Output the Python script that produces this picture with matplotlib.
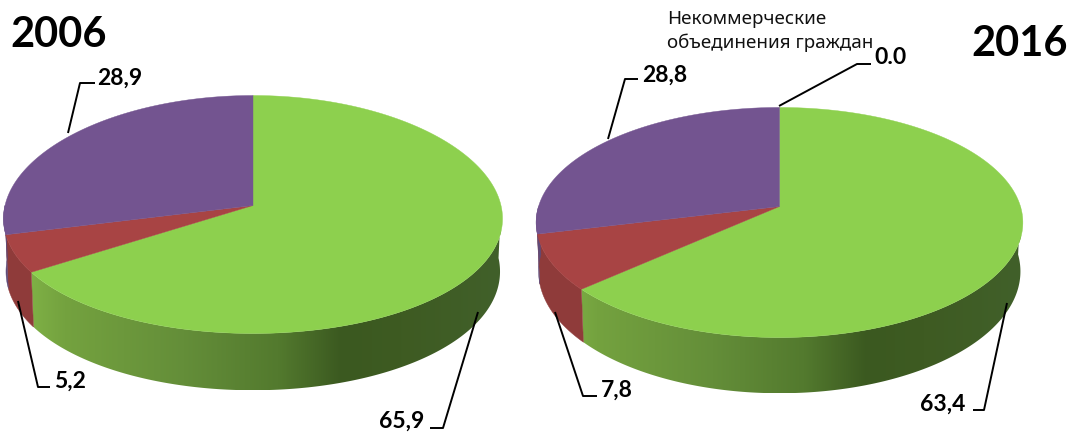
import numpy as np
import matplotlib.pyplot as plt
from matplotlib.colors import to_rgb

years = ['2006', '2016']
values_2006 = [65.9, 5.2, 28.9]
values_2016 = [63.4, 7.8, 28.8, 0.0]
labels_2006 = ['65,9', '5,2', '28,9']
labels_2016 = ['63,4', '7,8', '28,8', '0.0']
zero_name = 'Некоммерческие\nобъединения граждан'

top_colors = ['#8dd04e', '#a84444', '#735490', '#735490']
side_colors = [None, '#8f3b3a', '#5f4a78', '#5f4a78']

# shading of the green side, by position across the pie (0 left, 1 right)
green_pos = [0.0, 0.12, 0.36, 0.55, 0.68, 0.8, 1.0]
green_col = ['#86bb4a', '#74a23f', '#648e39', '#537a2e', '#3b5920', '#3e5b22', '#41602a']
green_rgb = np.array([to_rgb(c) for c in green_col])


def project(theta, cx, cy, a, b, k, kx):
    # theta clockwise from the back of the pie, simple perspective
    front = -np.cos(theta)
    den = 1 - k * front
    return cx + a * np.sin(theta) / (1 - kx * front), cy + b * front / den, den


def draw_pie(ax, values, cx, cy, a, b, k, kx, depth):
    edges = np.cumsum([0] + values) / sum(values) * 2 * np.pi

    # side wall first, only the part facing the viewer
    for i, v in enumerate(values):
        t0 = max(edges[i], np.pi / 2)
        t1 = min(edges[i + 1], 3 * np.pi / 2)
        if t1 <= t0:
            continue
        ts = np.linspace(t0, t1, 200)
        x, y, d = project(ts, cx, cy, a, b, k, kx)
        xb = cx + (x - cx) * 0.99
        yb = y + depth / d
        px = np.concatenate([x, xb[::-1]])
        py = np.concatenate([y, yb[::-1]])
        if side_colors[i] is None:
            wall = ax.fill(px, py, color='none', lw=0)[0]
            p = np.linspace(0, 1, 512)
            grad = np.stack([np.interp(p, green_pos, green_rgb[:, c]) for c in range(3)], axis=-1)
            im = ax.imshow(grad[np.newaxis, :, :], extent=[cx - a, cx + a, py.max(), py.min()],
                           aspect='auto', zorder=1, interpolation='bilinear')
            im.set_clip_path(wall)
        else:
            ax.fill(px, py, color=side_colors[i], lw=0.3, zorder=1)

    # top face
    for i, v in enumerate(values):
        if v == 0:
            continue
        ts = np.linspace(edges[i], edges[i + 1], 200)
        x, y, _ = project(ts, cx, cy, a, b, k, kx)
        ax.fill(np.append(x, cx), np.append(y, cy), color=top_colors[i], lw=0.3, zorder=2)


def leader(ax, xs, ys):
    ax.plot(xs, ys, color='black', lw=1.4, zorder=3, solid_capstyle='butt')


plt.rcParams['font.family'] = ['Lato', 'DejaVu Sans']
fig = plt.figure(figsize=(10.71, 4.35), dpi=100)
ax = fig.add_axes([0, 0, 1, 1])

draw_pie(ax, values_2006, 253, 206.5, 248, 118.3, 0.0756, 0.11, 52.5)
draw_pie(ax, values_2016, 779.5, 207.5, 241, 112.8, 0.139, 0.139, 48)

leader(ax, [68, 80, 95], [134, 84, 84])
leader(ax, [18, 38, 50], [302, 388, 388])
leader(ax, [478, 443, 430], [313, 429, 429])
leader(ax, [608, 625, 638], [140, 80, 80])
leader(ax, [779, 857, 871], [107, 65, 65])
leader(ax, [555, 583, 597], [313, 397, 397])
leader(ax, [1007, 984, 973], [304, 411, 411])

lab = dict(fontsize=16.5, fontweight='bold', color='black', va='center', ha='left', zorder=4)
ax.text(97, 78, labels_2006[2], **lab)
ax.text(54, 381, labels_2006[1], **lab)
ax.text(379, 421, labels_2006[0], **lab)
ax.text(642, 75, labels_2016[2], **lab)
ax.text(874, 58, labels_2016[3], **lab)
ax.text(601, 390, labels_2016[1], **lab)
ax.text(920, 404, labels_2016[0], **lab)

ax.text(10, 35, years[0], fontsize=30, fontweight='bold', va='center', ha='left')
ax.text(971, 44, years[1], fontsize=30, fontweight='bold', va='center', ha='left')

ax.text(667, 31, zero_name, fontsize=13.5, family=['Noto Sans', 'DejaVu Sans'],
        va='center', ha='left', linespacing=1.43, color='#111111')

ax.set_xlim(0, 1071)
ax.set_ylim(435, 0)
ax.axis('off')

fig.savefig('out.png', dpi=100)
